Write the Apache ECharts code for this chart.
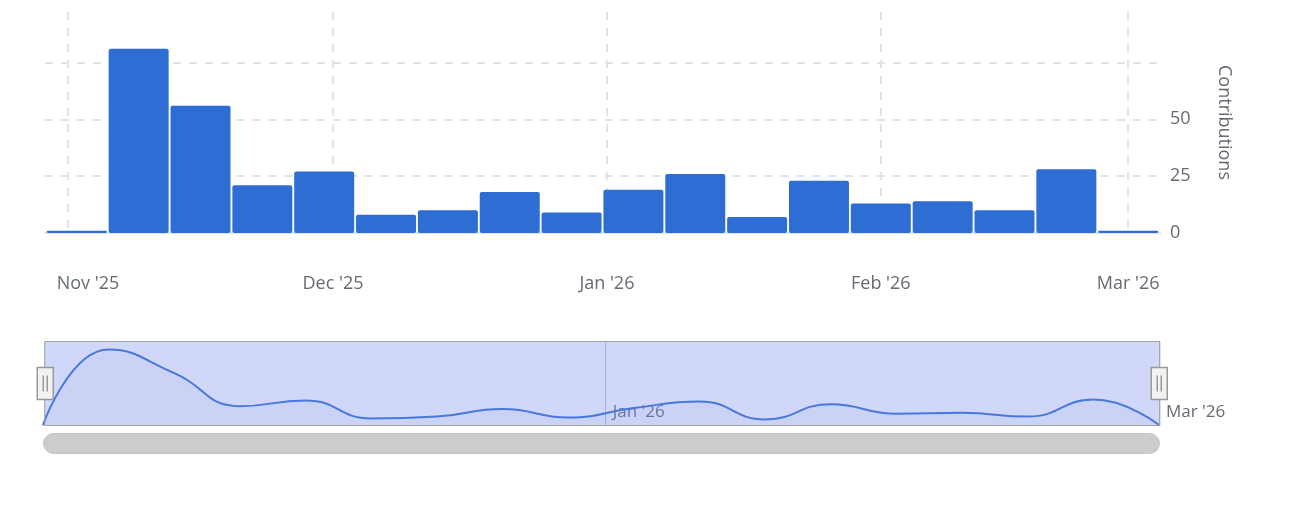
<!DOCTYPE html>
<html>
<head>
<meta charset="utf-8">
<script src="https://cdn.jsdelivr.net/npm/echarts@6.0.0/dist/echarts.min.js"></script>
<style>
  html, body { margin: 0; padding: 0; background: #fff; }
  #chart { width: 1292px; height: 507px; }
</style>
</head>
<body>
<div id="chart"></div>
<script>
// weekly contribution counts (week starting Sunday)
const weeks = [
  '2025-11-02', '2025-11-09', '2025-11-16', '2025-11-23', '2025-11-30',
  '2025-12-07', '2025-12-14', '2025-12-21', '2025-12-28', '2026-01-04',
  '2026-01-11', '2026-01-18', '2026-01-25', '2026-02-01', '2026-02-08',
  '2026-02-15', '2026-02-22', '2026-03-01'
];
const contributions = [1, 81, 56, 21, 27, 8, 10, 18, 9, 19, 26, 7, 23, 13, 14, 10, 28, 1];

const DAY = 24 * 3600 * 1000;
const seriesData = weeks.map((d, i) => [d, contributions[i]]);
const firstWeek = +new Date(weeks[0] + 'T00:00:00');
const lastWeek = +new Date(weeks[weeks.length - 1] + 'T00:00:00');

const chart = echarts.init(document.getElementById('chart'));
const fontFamily = '"Open Sans", sans-serif';
const labelColor = '#666a73';
const monthFmt = { month: "{MMM} '{yy}", year: "{MMM} '{yy}", day: '', week: '' };

// month labels only; the first one is nudged right so it stays inside the plot
function mainMonthLabel(value) {
  const d = new Date(value);
  if (d.getDate() !== 1) return '';
  const text = echarts.time.format(value, "{MMM} '{yy}", false);
  return value < firstWeek ? '{first|' + text + '}' : text;
}

chart.setOption({
  animation: false,
  textStyle: { fontFamily: fontFamily },
  grid: [
    { left: 45, right: 132, top: 12, bottom: 274, outerBoundsMode: 'none' },
    { left: 43, right: 133, top: 341, height: 85, outerBoundsMode: 'none' }
  ],
  xAxis: [{
    type: 'time',
    gridIndex: 0,
    // echarts pads half a column on each side itself
    min: firstWeek,
    max: lastWeek,
    axisLine: { lineStyle: { color: '#dfe3ea', width: 2 } },
    axisTick: { show: false },
    axisLabel: {
      fontSize: 18,
      color: labelColor,
      margin: 42,
      formatter: mainMonthLabel,
      rich: {
        first: { fontSize: 18, color: labelColor, fontFamily: fontFamily, padding: [0, 0, 0, 40] }
      }
    },
    splitLine: {
      show: true,
      showMinLine: false,
      showMaxLine: false,
      lineStyle: { type: [8, 8], color: '#e0e3e9', width: 2 }
    }
  }, {
    // navigator axis, ticks every two months
    type: 'time',
    gridIndex: 1,
    min: firstWeek,
    max: lastWeek,
    minInterval: 70 * DAY,
    axisLine: { show: false },
    axisTick: { show: false },
    axisLabel: {
      inside: true,
      fontSize: 17,
      color: labelColor,
      margin: 5,
      align: 'left',
      padding: [0, 0, 0, 7],
      formatter: monthFmt
    },
    splitLine: {
      show: true,
      showMinLine: false,
      lineStyle: { color: '#b9c0d8', width: 1 }
    }
  }],
  yAxis: [{
    type: 'value',
    gridIndex: 0,
    position: 'right',
    min: 0,
    max: v => v.max * 1.2,
    interval: 25,
    name: 'Contributions',
    nameLocation: 'middle',
    nameRotate: -90,
    nameGap: 55,
    nameTextStyle: { fontSize: 18, color: labelColor },
    axisLabel: {
      fontSize: 18,
      color: labelColor,
      margin: 10,
      formatter: v => (v > 60 ? '' : String(v))
    },
    splitLine: {
      showMaxLine: false,
      lineStyle: { type: [8, 8], color: '#e0e3e9', width: 2 }
    }
  }, {
    type: 'value',
    gridIndex: 1,
    min: 0,
    max: 90,
    show: false
  }],
  dataZoom: [{
    // navigator mask + handles
    type: 'slider',
    xAxisIndex: 0,
    left: 43,
    right: 133,
    top: 341,
    height: 85,
    backgroundColor: 'transparent',
    borderColor: '#a3a3a3',
    borderRadius: 0,
    fillerColor: 'rgba(120,140,235,0.35)',
    showDataShadow: false,
    showDetail: false,
    brushSelect: false,
    moveHandleSize: 0,
    handleIcon: 'path://M0,0 h16 v32 h-16 Z M6,8 v16 M10,8 v16',
    handleSize: 32,
    handleStyle: { color: '#f2f2f2', borderColor: '#999999', borderWidth: 1.5 },
    emphasis: { handleStyle: { color: '#f2f2f2', borderColor: '#999999' } }
  }],
  // scrollbar track under the navigator
  graphic: [{
    type: 'rect',
    left: 43,
    top: 433,
    shape: { width: 1116, height: 20, r: 10 },
    style: { fill: '#cccccc', stroke: '#c4c4c4', lineWidth: 1 },
    silent: true
  }],
  series: [{
    type: 'bar',
    xAxisIndex: 0,
    yAxisIndex: 0,
    data: seriesData,
    barCategoryGap: '3%',
    itemStyle: { color: '#2e6dd3', borderRadius: 2 }
  }, {
    type: 'line',
    xAxisIndex: 1,
    yAxisIndex: 1,
    data: seriesData,
    smooth: true,
    showSymbol: false,
    lineStyle: { color: '#2e6dd3', width: 2 },
    areaStyle: { color: 'rgba(46,109,211,0.06)' }
  }]
});
</script>
</body>
</html>
